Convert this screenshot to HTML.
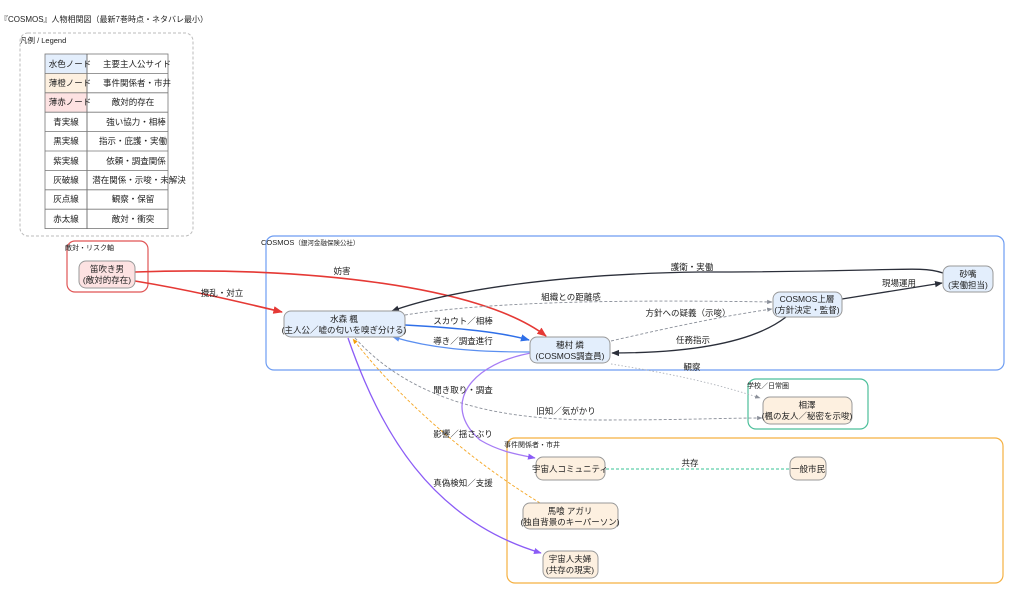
<!DOCTYPE html>
<html><head><meta charset="utf-8"><style>
html,body{margin:0;padding:0;background:#fff;}
svg{display:block;font-family:"Liberation Sans","Noto Sans CJK JP",sans-serif;}
</style></head><body>
<svg width="1024" height="602" viewBox="0 0 1024 602" xmlns="http://www.w3.org/2000/svg">
<defs>
<marker id="ar" viewBox="0 0 10 10" refX="9" refY="5" markerWidth="6" markerHeight="6" orient="auto"><path d="M0,1 L10,5 L0,9z" fill="#e53935"/></marker>
<marker id="ak" viewBox="0 0 10 10" refX="9" refY="5" markerWidth="6" markerHeight="6" orient="auto"><path d="M0,1 L10,5 L0,9z" fill="#2b2f3a"/></marker>
<marker id="ab" viewBox="0 0 10 10" refX="9" refY="5" markerWidth="6" markerHeight="6" orient="auto"><path d="M0,1 L10,5 L0,9z" fill="#2f6fe8"/></marker>
<marker id="ab2" viewBox="0 0 10 10" refX="9" refY="5" markerWidth="6" markerHeight="6" orient="auto"><path d="M0,1 L10,5 L0,9z" fill="#5b8ff0"/></marker>
<marker id="ag" viewBox="0 0 10 10" refX="9" refY="5" markerWidth="6" markerHeight="6" orient="auto"><path d="M0,1 L10,5 L0,9z" fill="#8a8f99"/></marker>
<marker id="ap" viewBox="0 0 10 10" refX="9" refY="5" markerWidth="6" markerHeight="6" orient="auto"><path d="M0,1 L10,5 L0,9z" fill="#8b5cf6"/></marker>
<marker id="ao" viewBox="0 0 10 10" refX="9" refY="5" markerWidth="6" markerHeight="6" orient="auto"><path d="M0,1 L10,5 L0,9z" fill="#f59e0b"/></marker>
</defs>

<text x="0" y="22" font-size="8" fill="#222">『COSMOS』人物相関図（最新7巻時点・ネタバレ最小）</text>

<!-- legend -->
<rect x="20" y="33" width="173" height="203" rx="8" fill="none" stroke="#bbb" stroke-dasharray="3,2"/>
<text x="20" y="43" font-size="7.5" fill="#222">凡例 / Legend</text>
<g font-size="8.5" fill="#222" text-anchor="middle">
<rect x="45" y="54" width="42" height="19.4" fill="#e3eefc"/>
<rect x="45" y="73.4" width="42" height="19.4" fill="#fdf0e0"/>
<rect x="45" y="92.8" width="42" height="19.4" fill="#fde2e2"/>
<rect x="45" y="54" width="123" height="174.6" fill="none" stroke="#777" stroke-width="0.8"/>
<line x1="87" y1="54" x2="87" y2="228.6" stroke="#555" stroke-width="0.8"/>
<g stroke="#777" stroke-width="0.8">
<line x1="45" y1="73.4" x2="168" y2="73.4"/><line x1="45" y1="92.8" x2="168" y2="92.8"/><line x1="45" y1="112.2" x2="168" y2="112.2"/><line x1="45" y1="131.6" x2="168" y2="131.6"/><line x1="45" y1="151" x2="168" y2="151"/><line x1="45" y1="170.4" x2="168" y2="170.4"/><line x1="45" y1="189.8" x2="168" y2="189.8"/><line x1="45" y1="209.2" x2="168" y2="209.2"/>
</g>
<text x="70" y="67">水色ノード</text><text x="137" y="67">主要主人公サイド</text>
<text x="70" y="86">薄橙ノード</text><text x="137" y="86">事件関係者・市井</text>
<text x="70" y="105">薄赤ノード</text><text x="133" y="105">敵対的存在</text>
<text x="66" y="125">青実線</text><text x="136" y="125">強い協力・相棒</text>
<text x="66" y="144">黒実線</text><text x="133" y="144">指示・庇護・実働</text>
<text x="66" y="164">紫実線</text><text x="136" y="164">依頼・調査関係</text>
<text x="66" y="183">灰破線</text><text x="139" y="183">潜在関係・示唆・未解決</text>
<text x="66" y="202">灰点線</text><text x="133" y="202">観察・保留</text>
<text x="66" y="222">赤太線</text><text x="133" y="222">敵対・衝突</text>
</g>

<!-- groups -->
<rect x="67" y="241" width="81" height="51" rx="8" fill="none" stroke="#e05555" stroke-width="1.2"/>
<text x="65" y="250" font-size="7" fill="#222">敵対・リスク軸</text>
<rect x="266" y="236" width="738" height="134" rx="8" fill="none" stroke="#6d9cf2" stroke-width="1.2"/>
<text x="261" y="245" font-size="7.5" fill="#222">COSMOS<tspan font-size="6.5">（銀河金融保険公社）</tspan></text>
<rect x="748" y="379" width="120" height="50" rx="8" fill="none" stroke="#4cbf9a" stroke-width="1.2"/>
<text x="747" y="388" font-size="7" fill="#222">学校／日常圏</text>
<rect x="507" y="438" width="496" height="145" rx="8" fill="none" stroke="#f5b041" stroke-width="1.2"/>
<text x="504" y="447" font-size="7" fill="#222">事件関係者・市井</text>

<!-- edges -->
<g fill="none">
<path d="M135,272 C300,266 480,285 546,336" stroke="#e53935" stroke-width="1.6" marker-end="url(#ar)"/>
<path d="M135,281 C190,290 240,302 282,312" stroke="#e53935" stroke-width="1.6" marker-end="url(#ar)"/>
<path d="M943,273 C920,265 900,272 700,272 C560,274 450,290 392,311" stroke="#2b2f3a" stroke-width="1.3" marker-end="url(#ak)"/>
<path d="M842,299 L942,283" stroke="#2b2f3a" stroke-width="1.3" marker-end="url(#ak)"/>
<path d="M786,317 C750,345 680,353 612,353" stroke="#2b2f3a" stroke-width="1.3" marker-end="url(#ak)"/>
<path d="M405,315 C500,300 650,300 772,302" stroke="#8a8f99" stroke-width="0.9" stroke-dasharray="3,2" marker-end="url(#ag)"/>
<path d="M611,341 C680,325 730,315 772,309" stroke="#8a8f99" stroke-width="0.9" stroke-dasharray="3,2" marker-end="url(#ag)"/>
<path d="M405,325 C460,328 500,332 529,340" stroke="#2f6fe8" stroke-width="1.5" marker-end="url(#ab)"/>
<path d="M530,352 C470,352 430,348 393,337" stroke="#5b8ff0" stroke-width="1.2" marker-end="url(#ab2)"/>
<path d="M611,364 C680,375 720,385 760,398" stroke="#b0b4bb" stroke-width="0.9" stroke-dasharray="1.5,2" marker-end="url(#ag)"/>
<path d="M355,338 C420,410 520,420 600,420 C690,420 720,418 762,418" stroke="#8a8f99" stroke-width="0.9" stroke-dasharray="3,2" marker-end="url(#ag)"/>
<path d="M537,352 C470,362 440,405 480,440 C500,452 520,455 535,458" stroke="#a67cf5" stroke-width="1.3" marker-end="url(#ap)"/>
<path d="M540,503 C470,460 400,400 353,339" stroke="#f5a623" stroke-width="0.9" stroke-dasharray="3,2" marker-end="url(#ao)"/>
<path d="M348,338 C380,430 430,520 541,553" stroke="#8b5cf6" stroke-width="1.3" marker-end="url(#ap)"/>
<path d="M606,469 L790,469" stroke="#5fcfaa" stroke-width="1.2" stroke-dasharray="3,2"/>
</g>

<!-- edge labels -->
<g font-size="8.5" fill="#222" text-anchor="middle">
<text x="342" y="274">妨害</text>
<text x="222" y="296">攪乱・対立</text>
<text x="692" y="270">護衛・実働</text>
<text x="899" y="286">現場運用</text>
<text x="693" y="343">任務指示</text>
<text x="571" y="300">組織との距離感</text>
<text x="688" y="316">方針への疑義（示唆）</text>
<text x="463" y="324">スカウト／相棒</text>
<text x="463" y="344">導き／調査進行</text>
<text x="692" y="370">観察</text>
<text x="566" y="414">旧知／気がかり</text>
<text x="463" y="393">聞き取り・調査</text>
<text x="463" y="437">影響／揺さぶり</text>
<text x="463" y="486">真偽検知／支援</text>
<text x="690" y="466">共存</text>
</g>

<!-- nodes -->
<g font-size="8.5" fill="#222" text-anchor="middle" stroke-width="1">
<rect x="79" y="261" width="56" height="27" rx="7" fill="#fde2e2" stroke="#999"/>
<text x="107" y="272">笛吹き男</text><text x="107" y="283">(敵対的存在)</text>
<rect x="284" y="311" width="121" height="26" rx="7" fill="#e3eefc" stroke="#999"/>
<text x="344" y="322">水森 楓</text><text x="344" y="333">(主人公／嘘の匂いを嗅ぎ分ける)</text>
<rect x="530" y="337" width="80" height="26" rx="7" fill="#e3eefc" stroke="#999"/>
<text x="570" y="348">穂村 燐</text><text x="570" y="359">(COSMOS調査員)</text>
<rect x="773" y="292" width="69" height="25" rx="7" fill="#e3eefc" stroke="#999"/>
<text x="807" y="302">COSMOS上層</text><text x="807" y="313">(方針決定・監督)</text>
<rect x="943" y="266" width="50" height="26" rx="7" fill="#e3eefc" stroke="#999"/>
<text x="968" y="277">砂嘴</text><text x="968" y="288">(実働担当)</text>
<rect x="763" y="397" width="89" height="27" rx="7" fill="#fdf0e0" stroke="#999"/>
<text x="807" y="408">相澤</text><text x="807" y="419">(楓の友人／秘密を示唆)</text>
<rect x="536" y="457" width="69" height="23" rx="7" fill="#fdf0e0" stroke="#999"/>
<text x="570" y="472">宇宙人コミュニティ</text>
<rect x="790" y="457" width="36" height="23" rx="7" fill="#fdf0e0" stroke="#999"/>
<text x="808" y="472">一般市民</text>
<rect x="523" y="503" width="95" height="26" rx="7" fill="#fdf0e0" stroke="#999"/>
<text x="570" y="514">馬喰 アガリ</text><text x="570" y="525">(独自背景のキーパーソン)</text>
<rect x="543" y="551" width="55" height="27" rx="7" fill="#fdf0e0" stroke="#999"/>
<text x="570" y="562">宇宙人夫婦</text><text x="570" y="573">(共存の現実)</text>
</g>
</svg>
</body></html>
